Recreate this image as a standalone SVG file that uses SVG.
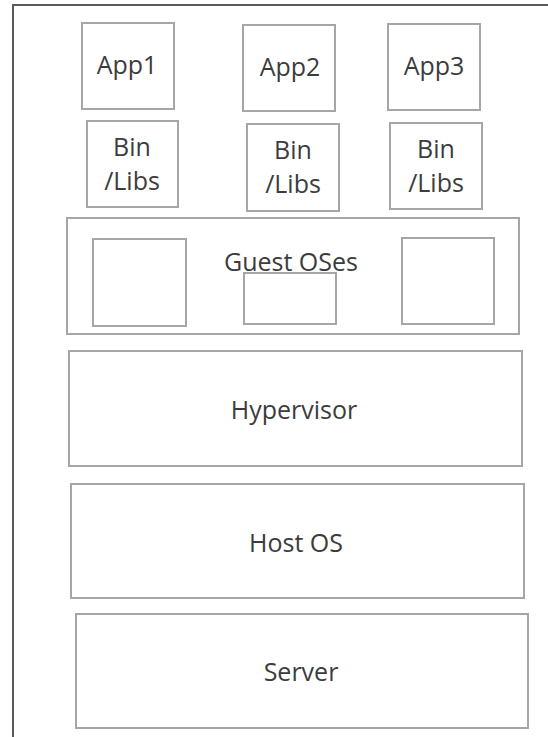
<svg xmlns="http://www.w3.org/2000/svg" width="548" height="737" viewBox="0 0 548 737">
  <style>
    .box { fill: #ffffff; stroke: #a6a6a6; stroke-width: 2; }
    .frame { fill: none; stroke: #5a5a5a; stroke-width: 2; }
    .lbl { font-family: "Open Sans", "Noto Sans", "DejaVu Sans", sans-serif; font-size: 25px; fill: #3c3c3c; text-anchor: middle; }
  </style>
  <rect width="548" height="737" fill="#ffffff"/>

  <!-- outer frame: top and left edges only -->
  <path class="frame" d="M13,737 V5 H548"/>

  <!-- applications -->
  <g id="app1"><rect class="box" x="82" y="23" width="92" height="86"/><text class="lbl" x="127" y="74">App1</text></g>
  <g id="app2"><rect class="box" x="243" y="25" width="92" height="86"/><text class="lbl" x="290" y="76">App2</text></g>
  <g id="app3"><rect class="box" x="388" y="24" width="92" height="86"/><text class="lbl" x="434" y="75">App3</text></g>

  <!-- binaries / libraries -->
  <g id="bins1"><rect class="box" x="87" y="121" width="91" height="86"/><text class="lbl" x="132" y="156">Bin</text><text class="lbl" x="132" y="190">/Libs</text></g>
  <g id="bins2"><rect class="box" x="247" y="124" width="92" height="87"/><text class="lbl" x="293" y="159">Bin</text><text class="lbl" x="293" y="193">/Libs</text></g>
  <g id="bins3"><rect class="box" x="390" y="123" width="92" height="86"/><text class="lbl" x="436" y="158">Bin</text><text class="lbl" x="436" y="192">/Libs</text></g>

  <!-- guest operating systems -->
  <g id="guest-oses">
    <rect class="box" x="67" y="218" width="452" height="116"/>
    <text class="lbl" x="291" y="271">Guest OSes</text>
    <rect class="box" x="93" y="239" width="93" height="87"/>
    <rect class="box" x="244" y="273" width="92" height="51"/>
    <rect class="box" x="402" y="238" width="92" height="86"/>
  </g>

  <g id="hypervisor"><rect class="box" x="69" y="351" width="453" height="115"/><text class="lbl" x="294" y="419">Hypervisor</text></g>
  <g id="host-os"><rect class="box" x="71" y="484" width="453" height="114"/><text class="lbl" x="296" y="552">Host OS</text></g>
  <g id="server"><rect class="box" x="76" y="614" width="452" height="114"/><text class="lbl" x="301" y="681">Server</text></g>

  <g id="connectors"/>
</svg>
